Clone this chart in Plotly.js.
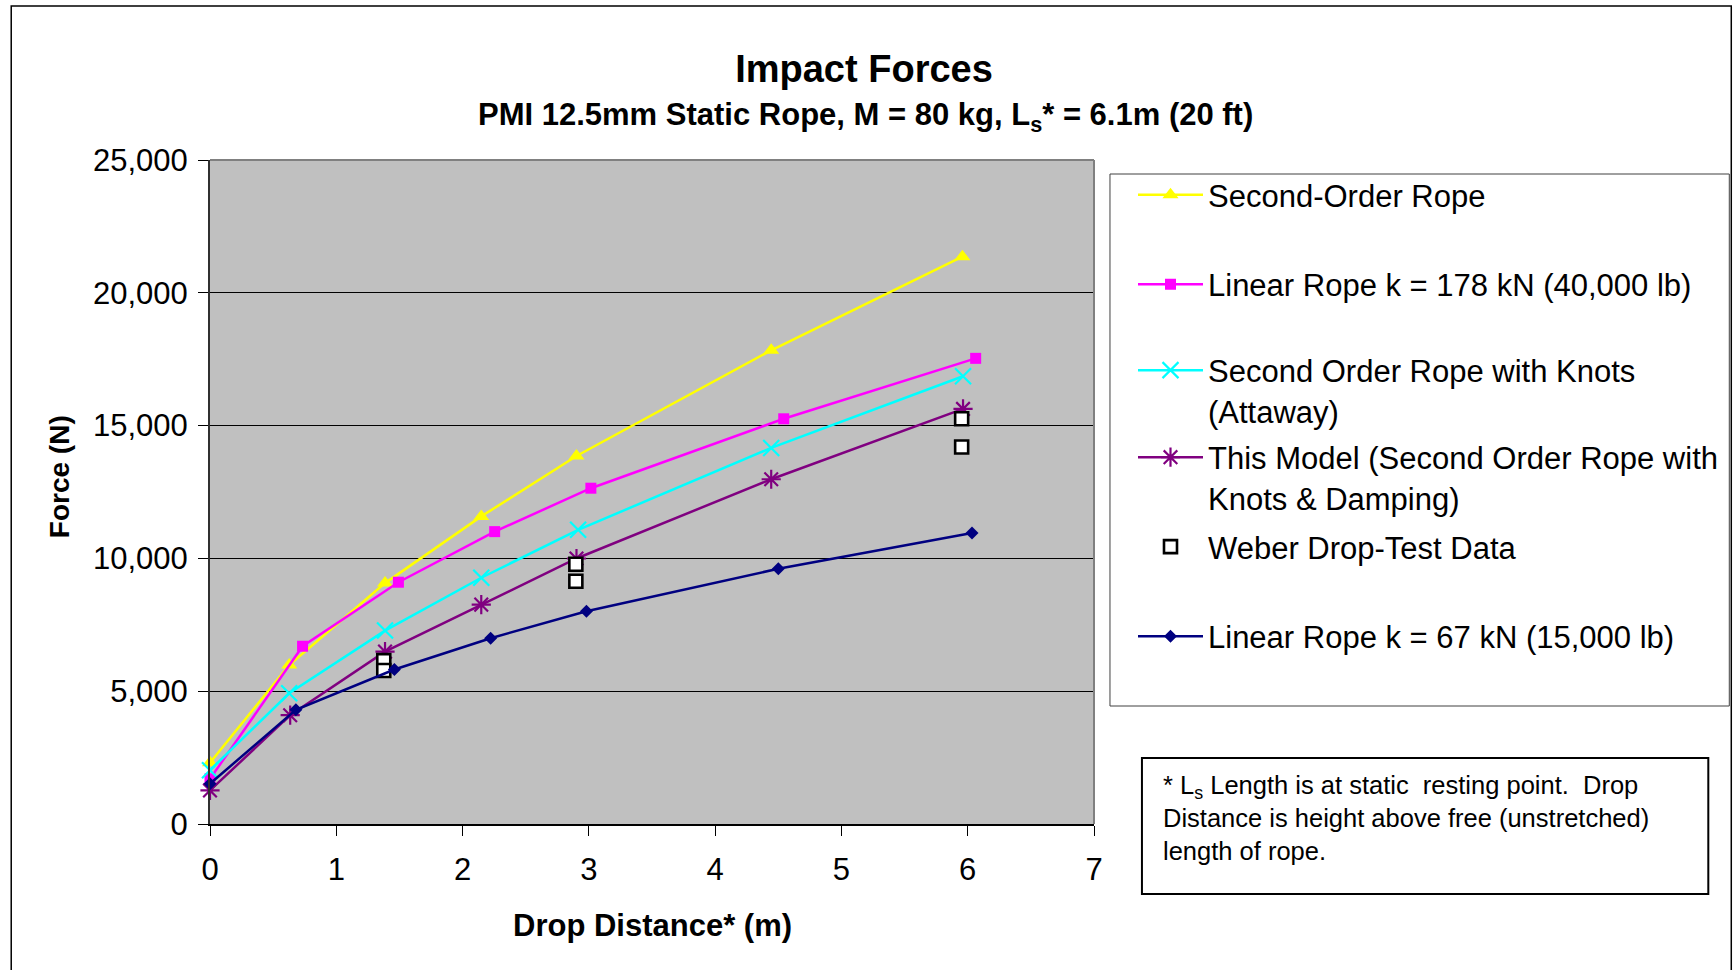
<!DOCTYPE html>
<html>
<head>
<meta charset="utf-8">
<script src="https://cdn.plot.ly/plotly-3.0.1.min.js"></script>
<style>
  html, body { margin: 0; padding: 0; background: #ffffff; }
  #chart { width: 1735px; height: 970px; }
</style>
</head>
<body>
<div id="chart"></div>
<script>
// ---- data ----
const secondOrderX = [0, 0.627, 1.386, 2.148, 2.902, 4.444, 5.958];
const secondOrderY = [2310, 5985, 9070, 11581, 13857, 17836, 21359];

const linear178X = [0, 0.733, 1.492, 2.254, 3.016, 4.543, 6.063];
const linear178Y = [1700, 6693, 9103, 11008, 12643, 15256, 17532];

const knotsX = [0, 0.627, 1.386, 2.148, 2.915, 4.444, 5.963];
const knotsY = [2023, 4922, 7282, 9272, 11076, 14160, 16858];

const modelX = [0, 0.635, 1.386, 2.148, 2.902, 4.444, 5.963];
const modelY = [1264, 4096, 6490, 8260, 9997, 12980, 15627];

const weberX = [1.376, 1.376, 2.897, 2.897, 5.952, 5.952];
const weberY = [6153, 5782, 9777, 9137, 15256, 14194];

const linear67X = [0, 0.680, 1.460, 2.222, 2.981, 4.500, 6.034];
const linear67Y = [1517, 4299, 5816, 6996, 8007, 9609, 10958];

const seriesNames = [
  "Second-Order Rope",
  "Linear Rope k = 178 kN (40,000 lb)",
  "Second Order Rope with Knots<br>(Attaway)",
  "This Model (Second Order Rope with<br>Knots & Damping)",
  "Weber Drop-Test Data",
  "Linear Rope k = 67 kN (15,000 lb)"
];

const xTickVals = [0, 1, 2, 3, 4, 5, 6, 7];
const yTickVals = [0, 5000, 10000, 15000, 20000, 25000];

const titleText = "Impact Forces";
const subtitleText = "PMI 12.5mm Static Rope, M = 80 kg, L<sub>s</sub>* = 6.1m (20 ft)";
const xTitleText = "Drop Distance* (m)";
const yTitleText = "Force (N)";
const noteText = "* L<sub>s</sub> Length is at static  resting point.  Drop<br>Distance is height above free (unstretched)<br>length of rope.";

// ---- layout geometry (pixels) ----
const W = 1735, H = 970;
const L = 210, R = 1095, T = 160, B = 824;
const PW = R - L, PH = B - T;
const px = v => (v - L) / PW;      // pixel x -> paper x
const py = v => (B - v) / PH;      // pixel y -> paper y

const FONT = "Liberation Sans, Arial, Helvetica, sans-serif";
const LEG_FONT = { family: FONT, size: 31, color: "#000000" };

// vertical centre (px) of each legend entry's text block
const legendCentres = [195, 284.5, 390.5, 477.5, 547, 636.5];
const legendIds = ["legend", "legend2", "legend3", "legend4", "legend5", "legend6"];

const traces = [
  {
    x: secondOrderX, y: secondOrderY, name: seriesNames[0], type: "scatter", mode: "lines+markers",
    line: { color: "#FFFF00", width: 2.5 },
    marker: { symbol: "triangle-up", size: 14, color: "#FFFF00" },
    cliponaxis: false, legend: legendIds[0]
  },
  {
    x: linear178X, y: linear178Y, name: seriesNames[1], type: "scatter", mode: "lines+markers",
    line: { color: "#FF00FF", width: 2.5 },
    marker: { symbol: "square", size: 11, color: "#FF00FF" },
    cliponaxis: false, legend: legendIds[1]
  },
  {
    x: knotsX, y: knotsY, name: seriesNames[2], type: "scatter", mode: "lines+markers",
    line: { color: "#00FFFF", width: 2.5 },
    marker: { symbol: "x-thin-open", size: 16, color: "#00FFFF", line: { color: "#00FFFF", width: 2.2 } },
    cliponaxis: false, legend: legendIds[2]
  },
  {
    x: modelX, y: modelY, name: seriesNames[3], type: "scatter", mode: "lines+markers",
    line: { color: "#800080", width: 2.5 },
    marker: { symbol: "asterisk-open", size: 16, color: "#800080", line: { color: "#800080", width: 2.2 } },
    cliponaxis: false, legend: legendIds[3]
  },
  {
    x: weberX, y: weberY, name: seriesNames[4], type: "scatter", mode: "markers",
    marker: { symbol: "square", size: 13, color: "#FFFFFF", line: { color: "#000000", width: 2.6 } },
    cliponaxis: false, legend: legendIds[4]
  },
  {
    x: linear67X, y: linear67Y, name: seriesNames[5], type: "scatter", mode: "lines+markers",
    line: { color: "#000080", width: 2.5 },
    marker: { symbol: "diamond", size: 10, color: "#000080" },
    cliponaxis: false, legend: legendIds[5]
  }
];

const layout = {
  width: W, height: H,
  margin: { l: L, r: W - R, t: T, b: H - B, pad: 0 },
  paper_bgcolor: "#FFFFFF",
  plot_bgcolor: "#C0C0C0",
  font: { family: FONT, color: "#000000", size: 30 },
  showlegend: true,
  title: {
    text: "<b>" + titleText + "</b>",
    font: { family: FONT, size: 38, color: "#000000" },
    xref: "container", yref: "container",
    x: 864 / W, y: 1 - 69 / H, xanchor: "center", yanchor: "middle"
  },
  xaxis: {
    range: [0, 7],
    tickmode: "array", tickvals: xTickVals, ticktext: xTickVals.map(String),
    ticks: "outside", ticklen: 10, tickwidth: 1, tickcolor: "#000000",
    ticklabelstandoff: 7,
    showline: true, linecolor: "#000000", linewidth: 1.5,
    showgrid: false, zeroline: false,
    tickfont: { family: FONT, size: 31, color: "#000000" },
    fixedrange: true
  },
  yaxis: {
    range: [0, 25000],
    tickmode: "array", tickvals: yTickVals,
    ticktext: yTickVals.map(v => v.toLocaleString("en-US")),
    ticks: "outside", ticklen: 10, tickwidth: 1, tickcolor: "#000000",
    ticklabelstandoff: 4,
    showline: true, linecolor: "#303030", linewidth: 2,
    showgrid: true, gridcolor: "#000000", gridwidth: 1,
    zeroline: false,
    tickfont: { family: FONT, size: 31, color: "#000000" },
    fixedrange: true
  },
  shapes: [
    // outer chart border
    { type: "rect", xref: "paper", yref: "paper", x0: px(11), x1: px(1733), y0: py(985), y1: py(6),
      line: { color: "#000000", width: 1.5 }, fillcolor: "rgba(0,0,0,0)", layer: "below" },
    // gray plot-area border (top and right)
    { type: "line", xref: "paper", yref: "paper", x0: 0, x1: 1, y0: 1, y1: 1,
      line: { color: "#808080", width: 2 }, layer: "above" },
    { type: "line", xref: "paper", yref: "paper", x0: 1, x1: 1, y0: 0, y1: 1,
      line: { color: "#808080", width: 2 }, layer: "above" },
    // legend box
    { type: "rect", xref: "paper", yref: "paper", x0: px(1111), x1: px(1731), y0: py(706), y1: py(174),
      line: { color: "#404040", width: 1 }, fillcolor: "#FFFFFF", layer: "below" },
    // footnote box
    { type: "rect", xref: "paper", yref: "paper", x0: px(1143), x1: px(1710), y0: py(894), y1: py(758),
      line: { color: "#000000", width: 2 }, fillcolor: "#FFFFFF", layer: "below" }
  ],
  annotations: [
    { text: "<b>" + subtitleText + "</b>", xref: "paper", yref: "paper",
      x: px(866), y: py(117), xanchor: "center", yanchor: "middle", showarrow: false,
      font: { family: FONT, size: 31, color: "#000000" } },
    { text: "<b>" + xTitleText + "</b>", xref: "paper", yref: "paper",
      x: px(653), y: py(926), xanchor: "center", yanchor: "middle", showarrow: false,
      font: { family: FONT, size: 31, color: "#000000" } },
    { text: "<b>" + yTitleText + "</b>", xref: "paper", yref: "paper", textangle: -90,
      x: px(59), y: py(477), xanchor: "center", yanchor: "middle", showarrow: false,
      font: { family: FONT, size: 28, color: "#000000" } },
    { text: noteText, xref: "paper", yref: "paper", align: "left",
      x: px(1162), y: py(769), xanchor: "left", yanchor: "top", showarrow: false,
      font: { family: FONT, size: 25.5, color: "#000000" } }
  ]
};

// one positioned legend per series, so entry spacing matches the reference
legendIds.forEach((id, i) => {
  layout[id] = {
    x: px(1133), y: py(legendCentres[i]), xanchor: "left", yanchor: "middle",
    xref: "paper", yref: "paper",
    bgcolor: "rgba(0,0,0,0)", borderwidth: 0,
    font: LEG_FONT, valign: "top", itemwidth: 65
  };
});

Plotly.newPlot("chart", traces, layout, { staticPlot: true, displayModeBar: false });
</script>
</body>
</html>
